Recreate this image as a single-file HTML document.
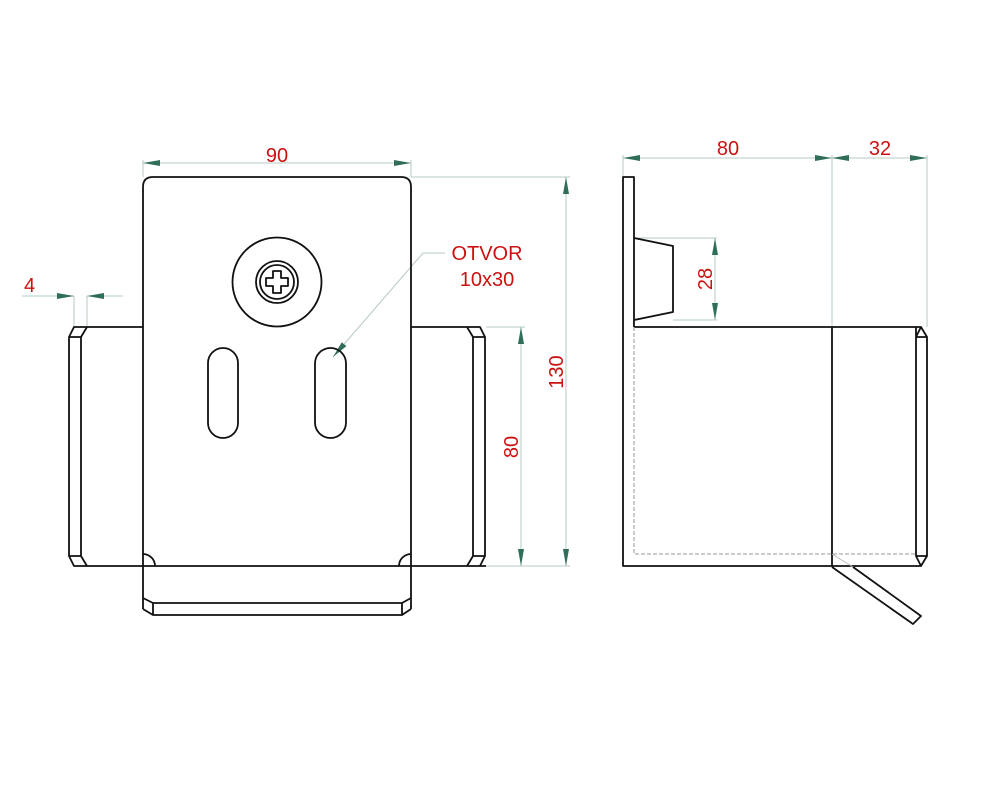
<!DOCTYPE html>
<html><head><meta charset="utf-8"><style>
html,body{margin:0;padding:0;background:#fff;width:1000px;height:800px;overflow:hidden}
svg text{font-family:"Liberation Sans",Arial,sans-serif;fill:#cc1111;font-size:20px}
</style></head><body>
<svg width="1000" height="800" viewBox="0 0 1000 800" xmlns="http://www.w3.org/2000/svg">
<defs>
<marker id="a" viewBox="0 0 17 6" refX="17" refY="3" markerWidth="17" markerHeight="6" markerUnits="userSpaceOnUse" orient="auto-start-reverse"><path d="M0,0 L17,3 L0,6 Z" fill="#2f6e58"/></marker>
</defs>
<g fill="none" stroke="#b5c8c0" stroke-width="1">
<line x1="143" y1="163" x2="411" y2="163" marker-start="url(#a)" marker-end="url(#a)"/>
<line x1="143" y1="160" x2="143" y2="177"/><line x1="411" y1="160" x2="411" y2="177"/>
<line x1="411" y1="177" x2="570" y2="177"/>
<line x1="566" y1="177" x2="566" y2="566" marker-start="url(#a)" marker-end="url(#a)"/>
<line x1="486" y1="566" x2="570" y2="566"/>
<line x1="486" y1="327" x2="525" y2="327"/>
<line x1="521" y1="327" x2="521" y2="566" marker-start="url(#a)" marker-end="url(#a)"/>
<line x1="74" y1="296" x2="74" y2="327"/><line x1="87" y1="296" x2="87" y2="327"/>
<line x1="22" y1="296" x2="74" y2="296" marker-end="url(#a)"/>
<line x1="123" y1="296" x2="87" y2="296" marker-end="url(#a)"/>
<polyline points="445,253 423,253 333,357" marker-end="url(#a)"/>
<line x1="623" y1="155" x2="623" y2="177"/>
<line x1="832" y1="155" x2="832" y2="566"/>
<line x1="927" y1="155" x2="927" y2="327"/>
<line x1="623" y1="158" x2="832" y2="158" marker-start="url(#a)" marker-end="url(#a)"/>
<line x1="832" y1="158" x2="927" y2="158" marker-start="url(#a)" marker-end="url(#a)"/>
<line x1="634" y1="238" x2="717" y2="238"/><line x1="673" y1="320" x2="717" y2="320"/>
<line x1="715" y1="238" x2="715" y2="320" marker-start="url(#a)" marker-end="url(#a)"/>
</g>
<g fill="none" stroke="#111" stroke-width="1.8" stroke-linejoin="round">
<path d="M143,609 L143,187 Q143,177 153,177 L401,177 Q411,177 411,187 L411,609"/>
<path d="M143,598 L153,603 L402,603 L411,598 M143,609 L153,615 L402,615 L411,609 M153,603 L153,615 M402,603 L402,615"/>
<path d="M143,554 A12,12 0 0 1 155,566 M411,554 A12,12 0 0 0 399,566"/>
<path d="M143,327 L74,327 L69,337 L69,556 L74,566 L486,566"/>
<path d="M87,327 L81,337 L81,556 L87,566 M69,337 L81,337 M69,556 L81,556"/>
<path d="M411,327 L480,327 L485,337 L485,556 L480,566"/>
<path d="M467,327 L473,337 L473,556 L467,566 M473,337 L485,337 M473,556 L485,556"/>
<circle cx="277" cy="282" r="44.5"/>
<circle cx="277" cy="282" r="21"/>
<circle cx="277" cy="282" r="17"/>
<path d="M273,271 L281,271 L281,278 L288,278 L288,286 L281,286 L281,293 L273,293 L273,286 L266,286 L266,278 L273,278 Z"/>
<rect x="208" y="348" width="30" height="90" rx="15"/>
<rect x="315" y="348" width="31" height="90" rx="15.5"/>
<path d="M634,327 L634,177 L623,177 L623,566 L921,566 L927,556 L927,337 L921,327 L634,327"/>
<path d="M916,327 L916,556 L921,566 M916,556 L927,556 M916,337 L927,337 M921,327 L916,337"/>
<line x1="832" y1="327" x2="832" y2="566"/>
<path d="M634,238 L673,246 L673,312 L634,320"/>
<path d="M832,567 L913,624 L921,616 L853,567"/>
</g>
<path d="M634,327 L634,554 L916,554" fill="none" stroke="#999" stroke-width="1" stroke-dasharray="4,2"/>
<line x1="832" y1="554" x2="853" y2="567" stroke="#bbb" stroke-width="1"/>
<text x="277" y="162" text-anchor="middle">90</text>
<text x="24" y="292">4</text>
<text x="487" y="260" text-anchor="middle">OTVOR</text>
<text x="487" y="286" text-anchor="middle">10x30</text>
<text transform="translate(563,372) rotate(-90)" text-anchor="middle">130</text>
<text transform="translate(518,447) rotate(-90)" text-anchor="middle">80</text>
<text transform="translate(712,279) rotate(-90)" text-anchor="middle">28</text>
<text x="728" y="155" text-anchor="middle">80</text>
<text x="880" y="155" text-anchor="middle">32</text>
</svg>
</body></html>
